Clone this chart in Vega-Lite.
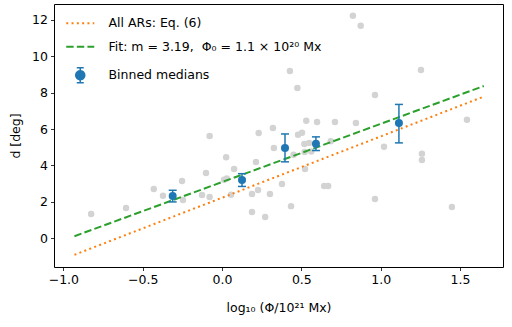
{
  "$schema": "https://vega.github.io/schema/vega-lite/v6.json",
  "width": 449,
  "height": 263,
  "autosize": "none",
  "padding": {"left": 54, "top": 4, "right": 9, "bottom": 60},
  "config": {
    "font": "DejaVu Sans",
    "view": {"stroke": "black", "strokeWidth": 1},
    "axis": {"grid": false, "domain": false, "tickColor": "black", "tickSize": 3.5, "tickWidth": 0.8, "labelFontSize": 12.5, "labelColor": "black", "titleFontSize": 12.5, "titleFontWeight": "normal", "titleColor": "black", "labelPadding": 3}
  },
  "datasets": {
    "pts": [
      {"x": -0.825, "y": 1.34}, {"x": -0.605, "y": 1.67}, {"x": -0.430, "y": 2.71}, {"x": -0.372, "y": 2.34},
      {"x": -0.252, "y": 3.15}, {"x": -0.246, "y": 2.11}, {"x": -0.078, "y": 5.62}, {"x": -0.101, "y": 3.59},
      {"x": -0.126, "y": 2.38}, {"x": -0.078, "y": 2.27}, {"x": 0.026, "y": 4.45}, {"x": 0.013, "y": 3.22},
      {"x": 0.030, "y": 3.29}, {"x": 0.076, "y": 3.81}, {"x": 0.057, "y": 2.40}, {"x": 0.189, "y": 2.44},
      {"x": 0.189, "y": 1.45}, {"x": 0.214, "y": 4.19}, {"x": 0.231, "y": 5.78}, {"x": 0.227, "y": 2.66},
      {"x": 0.321, "y": 6.06}, {"x": 0.531, "y": 6.46}, {"x": 0.599, "y": 6.39}, {"x": 0.712, "y": 6.39},
      {"x": 0.844, "y": 6.33}, {"x": 0.479, "y": 5.69}, {"x": 0.504, "y": 5.80}, {"x": 0.327, "y": 4.96},
      {"x": 0.519, "y": 5.18}, {"x": 0.549, "y": 5.24}, {"x": 0.521, "y": 4.74}, {"x": 0.563, "y": 4.77},
      {"x": 0.685, "y": 5.33}, {"x": 0.523, "y": 3.81}, {"x": 0.378, "y": 2.99}, {"x": 0.302, "y": 2.44},
      {"x": 0.644, "y": 2.88}, {"x": 0.669, "y": 2.88}, {"x": 0.435, "y": 1.77}, {"x": 0.272, "y": 1.17},
      {"x": 0.964, "y": 2.16}, {"x": 0.825, "y": 12.21}, {"x": 0.874, "y": 11.67}, {"x": 0.428, "y": 9.19},
      {"x": 0.475, "y": 8.25}, {"x": 0.964, "y": 7.87}, {"x": 1.254, "y": 9.24}, {"x": 1.544, "y": 6.51},
      {"x": 1.021, "y": 5.03}, {"x": 1.260, "y": 4.65}, {"x": 1.260, "y": 4.30}, {"x": 1.449, "y": 1.72},
      {"x": 0.451, "y": 4.59}
    ],
    "lines": [
      {"series": "All ARs: Eq. (6)", "x": -0.93, "y": -0.9},
      {"series": "All ARs: Eq. (6)", "x": 1.65, "y": 7.78},
      {"series": "Fit: m = 3.19,\u00a0\u00a0Φ₀ = 1.1 × 10²⁰ Mx", "x": -0.93, "y": 0.12},
      {"series": "Fit: m = 3.19,\u00a0\u00a0Φ₀ = 1.1 × 10²⁰ Mx", "x": 1.65, "y": 8.36}
    ],
    "bins": [
      {"series": "Binned medians", "x": -0.311, "y": 2.33, "lo": 2.0, "hi": 2.64},
      {"series": "Binned medians", "x": 0.126, "y": 3.2, "lo": 2.85, "hi": 3.55},
      {"series": "Binned medians", "x": 0.397, "y": 4.96, "lo": 4.2, "hi": 5.73},
      {"series": "Binned medians", "x": 0.592, "y": 5.19, "lo": 4.82, "hi": 5.57},
      {"series": "Binned medians", "x": 1.115, "y": 6.33, "lo": 5.24, "hi": 7.35}
    ]
  },
  "encoding": {
    "x": {"field": "x", "type": "quantitative", "scale": {"domain": [-1.059, 1.771], "nice": false, "zero": false},
      "axis": {"values": [-1, -0.5, 0, 0.5, 1, 1.5], "format": ".1f", "title": "log₁₀ (Φ/10²¹ Mx)", "titlePadding": 15}},
    "y": {"field": "y", "type": "quantitative", "scale": {"domain": [-1.57, 12.86], "nice": false, "zero": false},
      "axis": {"values": [0, 2, 4, 6, 8, 10, 12], "title": "d [deg]", "titlePadding": 9}}
  },
  "layer": [
    {
      "data": {"name": "pts"},
      "mark": {"type": "circle", "size": 42, "color": "#d3d3d3", "opacity": 1}
    },
    {
      "data": {"name": "lines"},
      "mark": {"type": "line", "strokeWidth": 2, "strokeCap": "butt"},
      "encoding": {
        "color": {"field": "series", "type": "nominal",
          "scale": {"domain": ["All ARs: Eq. (6)", "Fit: m = 3.19,\u00a0\u00a0Φ₀ = 1.1 × 10²⁰ Mx", "Binned medians"], "range": ["#ff7f0e", "#2ca02c", "#1f77b4"]},
          "legend": {
            "title": null, "orient": "none", "legendX": 18, "legendY": 11, "padding": 2,
            "symbolSize": 784, "symbolStrokeWidth": 2, "labelFontSize": 12.5, "labelColor": "black", "labelOffset": 22, "rowPadding": 10.5, "labelLimit": 0,
            "encode": {
              "symbols": {"update": {
                "shape": {"signal": "datum.value === 'Binned medians' ? 'M0.32,0A0.32,0.32,0,1,1,-0.32,0A0.32,0.32,0,1,1,0.32,0Z M0,-0.54L0,0.54 M-0.25,-0.54L0.25,-0.54 M-0.25,0.54L0.25,0.54' : 'stroke'"},
                "fill": {"signal": "datum.value === 'Binned medians' ? '#1f77b4' : 'transparent'"},
                "strokeDash": {"signal": "datum.value === 'All ARs: Eq. (6)' ? [2, 3.3] : (datum.value === 'Binned medians' ? [1, 0] : [7.4, 3.2])"},
                "strokeWidth": {"signal": "datum.value === 'Binned medians' ? 1.5 : 2"},
                "opacity": {"value": 1}
              }}
            }
          }},
        "strokeDash": {"field": "series", "type": "nominal",
          "scale": {"domain": ["All ARs: Eq. (6)", "Fit: m = 3.19,\u00a0\u00a0Φ₀ = 1.1 × 10²⁰ Mx", "Binned medians"], "range": [[2, 3.3], [7.4, 3.2], [1, 0]]},
          "legend": null}
      }
    },
    {
      "data": {"name": "bins"},
      "mark": {"type": "rule", "strokeWidth": 1.5, "color": "#1f77b4"},
      "encoding": {"y": {"field": "lo", "type": "quantitative"}, "y2": {"field": "hi"}}
    },
    {
      "data": {"name": "bins"},
      "mark": {"type": "tick", "orient": "horizontal", "size": 8, "thickness": 1.5, "color": "#1f77b4", "opacity": 1},
      "encoding": {"y": {"field": "lo", "type": "quantitative"}}
    },
    {
      "data": {"name": "bins"},
      "mark": {"type": "tick", "orient": "horizontal", "size": 8, "thickness": 1.5, "color": "#1f77b4", "opacity": 1},
      "encoding": {"y": {"field": "hi", "type": "quantitative"}}
    },
    {
      "data": {"name": "bins"},
      "mark": {"type": "circle", "size": 64, "opacity": 1},
      "encoding": {
        "color": {"field": "series", "type": "nominal"}
      }
    }
  ]
}
